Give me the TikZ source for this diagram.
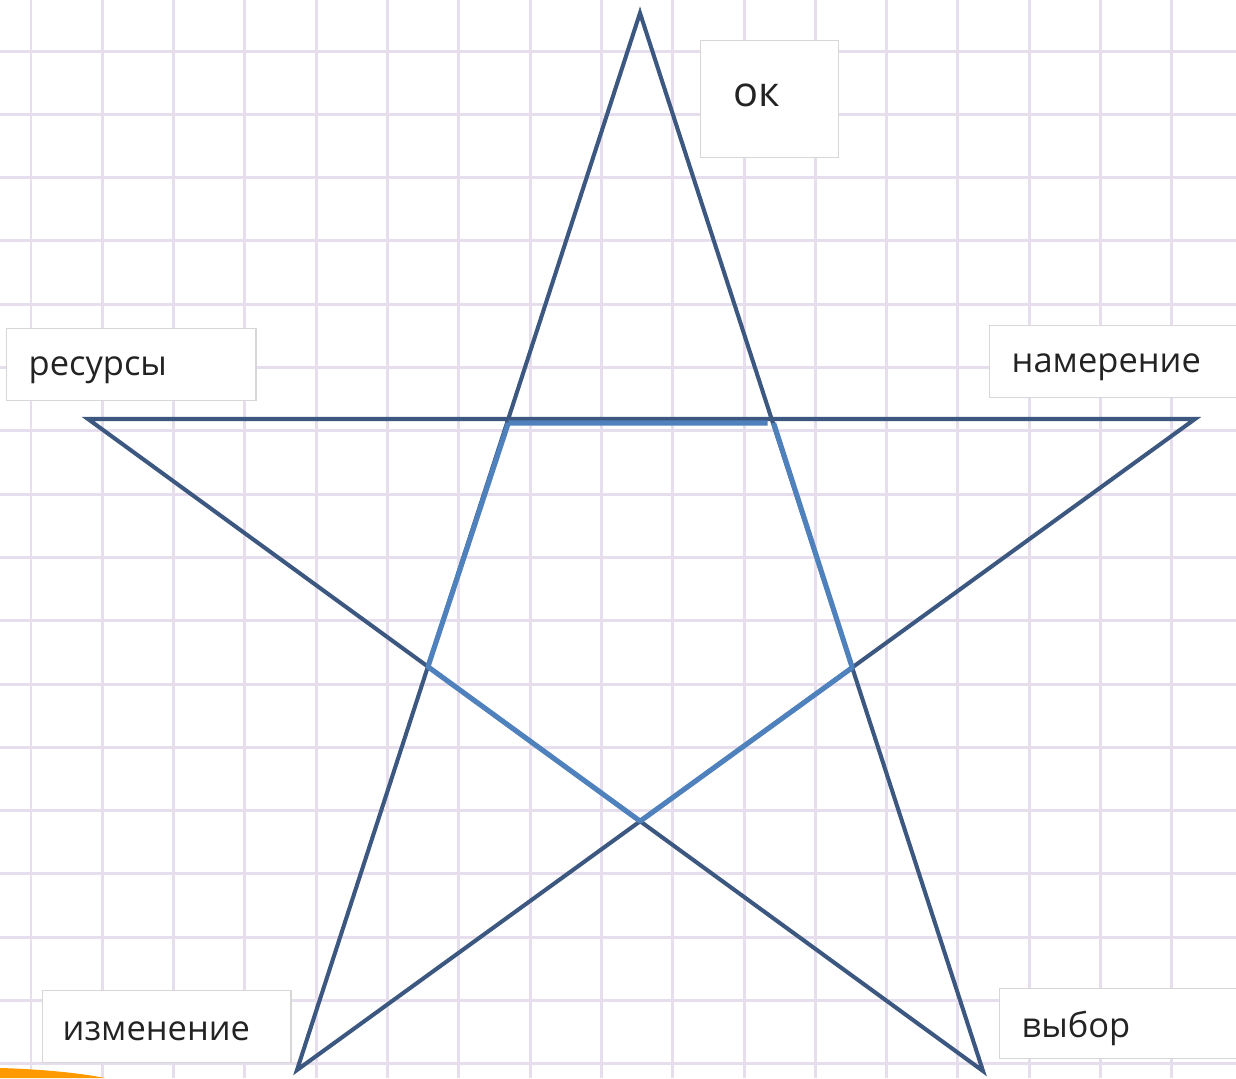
\documentclass[tikz,border=0pt]{standalone}
\usepackage{fontspec}
\setmainfont{Open Sans}
\usetikzlibrary{calc}
\definecolor{gridlilac}{RGB}{230,222,236}
\definecolor{stardark}{RGB}{60,88,128}
\definecolor{starlight}{RGB}{79,129,189}
\definecolor{boxgray}{RGB}{215,215,215}
\definecolor{textgray}{RGB}{35,35,35}
\tikzset{
  grid line/.style={draw=gridlilac,line width=0.85pt},
  star edge/.style={draw=stardark,line width=1.15pt,line join=miter},
  inner edge/.style={draw=starlight,line width=1.45pt,line join=round},
  label box/.style={
    draw=boxgray,
    fill=white,
    line width=0.4pt,
    inner sep=0pt,
    anchor=north west
  },
  label text/.style={
    anchor=west,
    text=textgray,
    font=\fontsize{9.8}{12}\selectfont,
    inner sep=0pt
  }
}

\begin{document}
\begin{tikzpicture}[x=0.01cm,y=-0.01cm]
  \useasboundingbox (0,0) rectangle (1236,1078);
  \fill[white] (0,0) rectangle (1236,1078);
  \begin{scope}
    \clip (0,0) rectangle (1236,1078);
    \foreach \k in {0,...,16}
      \draw[grid line] ({31+71.3*\k},0) -- ({31+71.3*\k},1078);
    \foreach \k in {-1,...,16}
      \draw[grid line] (0,{51+63.3*\k}) -- (1236,{51+63.3*\k});
    % swoosh in the corner
    \fill[orange!80!yellow]
      (0,1068) .. controls (40,1069) and (80,1073) .. (105,1078)
      -- (0,1078) -- cycle;
  \end{scope}

  % star points
  \coordinate (top) at (640,13);
  \coordinate (right) at (1195,419);
  \coordinate (br) at (983,1071);
  \coordinate (bl) at (297,1070);
  \coordinate (left) at (88,419);

  \draw[star edge] (left) -- (right) -- (bl) -- (top) -- (br) -- cycle;

  % inner pentagon
  \coordinate (ptl) at (intersection of top--bl and left--right);
  \coordinate (ptr) at (intersection of top--br and left--right);
  \coordinate (pr) at (intersection of top--br and right--bl);
  \coordinate (pb) at (intersection of left--br and right--bl);
  \coordinate (pl) at (intersection of top--bl and left--br);
  \draw[inner edge]
    ($(ptl)+(0,4)$) -- ($(ptr)+(-4,4)$)
    ($(ptr)+(2,4)$) -- (pr) -- (pb) -- (pl) -- ($(ptl)+(0,4)$);

  % labels
  \node[label box,minimum width=1.38cm,minimum height=1.17cm]
    (okbox) at (700,40) {};
  \node[label text,font=\fontsize{11.8}{14}\selectfont] (ok) at (733,95) {ок};
  \node[label box,minimum width=2.49cm,minimum height=0.72cm]
    (resbox) at (6,328) {};
  \node[label text] (res) at (28,370) {ресурсы};
  \node[label box,minimum width=2.5cm,minimum height=0.72cm]
    (intbox) at (989,325) {};
  \node[label text] (int) at (1011,367) {намерение};
  \node[label box,minimum width=2.48cm,minimum height=0.72cm]
    (chgbox) at (42,990) {};
  \node[label text] (chg) at (62,1031) {изменение};
  \node[label box,minimum width=2.4cm,minimum height=0.7cm]
    (selbox) at (999,988) {};
  \node[label text] (sel) at (1021,1028) {выбор};
\end{tikzpicture}
\end{document}
